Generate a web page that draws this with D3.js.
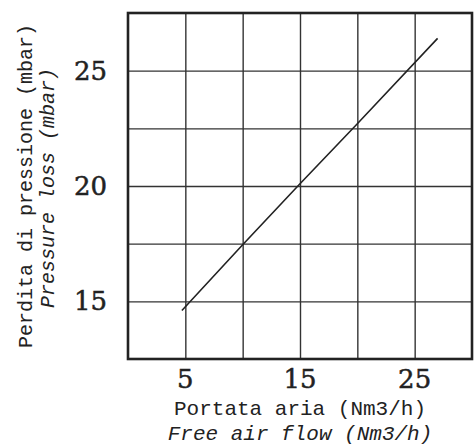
<!DOCTYPE html>
<html>
<head>
<meta charset="utf-8">
<script src="https://cdn.jsdelivr.net/npm/d3@7"></script>
<style>
	body { margin: 0; background: #fff; }
	.lab { font-family: "Liberation Mono", monospace; fill: #222; }
	.num { font-family: "DejaVu Serif", serif; font-size: 26px; fill: #222; stroke: #222; stroke-width: 0.5px; }
</style>
</head>
<body>
<script>
// data
var flow = [4.7, 10, 15, 20, 27]; // Nm3/h
var loss = [14.6, 17.45, 20.1, 22.7, 26.4]; // mbar

var xTickLabels = [5, 15, 25];
var yTickLabels = [15, 20, 25];
var xGrid = [5, 10, 15, 20, 25];
var yGrid = [15, 17.5, 20, 22.5, 25];

var width = 474, height = 446;
var mLeft = 128, mRight = 472, mTop = 13, mBottom = 359;

var x = d3.scaleLinear().domain([0, 30]).range([mLeft, mRight]);
var y = d3.scaleLinear().domain([12.5, 27.5]).range([mBottom, mTop]);

var svg = d3.select("body").append("svg")
	.attr("width", width)
	.attr("height", height);

// grid via axes with long ticks
svg.append("g")
	.attr("transform", "translate(0," + mBottom + ")")
	.call(d3.axisBottom(x).tickValues(xGrid).tickSize(-(mBottom - mTop)).tickFormat(""))
	.call(function(g) {
		g.select(".domain").remove();
		g.selectAll("line").attr("stroke", "#333").attr("stroke-width", 1.4);
	});

svg.append("g")
	.attr("transform", "translate(" + mLeft + ",0)")
	.call(d3.axisLeft(y).tickValues(yGrid).tickSize(-(mRight - mLeft)).tickFormat(""))
	.call(function(g) {
		g.select(".domain").remove();
		g.selectAll("line").attr("stroke", "#333").attr("stroke-width", 1.4);
	});

// frame
svg.append("rect")
	.attr("x", mLeft)
	.attr("y", mTop)
	.attr("width", mRight - mLeft)
	.attr("height", mBottom - mTop)
	.attr("fill", "none")
	.attr("stroke", "#222")
	.attr("stroke-width", 2.6);

// tick labels
svg.selectAll("text.xt")
	.data(xTickLabels)
	.enter()
	.append("text")
	.attr("class", "num")
	.attr("x", function(d) { return x(d); })
	.attr("y", 388)
	.attr("text-anchor", "middle")
	.text(function(d) { return d; });

svg.selectAll("text.yt")
	.data(yTickLabels)
	.enter()
	.append("text")
	.attr("class", "num")
	.attr("x", 107)
	.attr("y", function(d) { return y(d) + 9; })
	.attr("text-anchor", "end")
	.text(function(d) { return d; });

// the curve
var line = d3.line()
	.x(function(d, i) { return x(flow[i]); })
	.y(function(d) { return y(d); });

svg.append("path")
	.datum(loss)
	.attr("d", line)
	.attr("fill", "none")
	.attr("stroke", "#222")
	.attr("stroke-width", 1.6);

// axis titles
svg.append("text")
	.attr("class", "lab")
	.attr("x", 300).attr("y", 415)
	.attr("text-anchor", "middle")
	.style("font-size", "21px")
	.text("Portata aria (Nm3/h)");

svg.append("text")
	.attr("class", "lab")
	.attr("x", 300).attr("y", 440)
	.attr("text-anchor", "middle")
	.style("font-size", "21px")
	.style("font-style", "italic")
	.text("Free air flow (Nm3/h)");

svg.append("text")
	.attr("class", "lab")
	.attr("transform", "translate(32,186) rotate(-90)")
	.attr("text-anchor", "middle")
	.style("font-size", "20px")
	.text("Perdita di pressione (mbar)");

svg.append("text")
	.attr("class", "lab")
	.attr("transform", "translate(54,188) rotate(-90)")
	.attr("text-anchor", "middle")
	.style("font-size", "20px")
	.style("font-style", "italic")
	.text("Pressure loss (mbar)");
</script>
</body>
</html>
